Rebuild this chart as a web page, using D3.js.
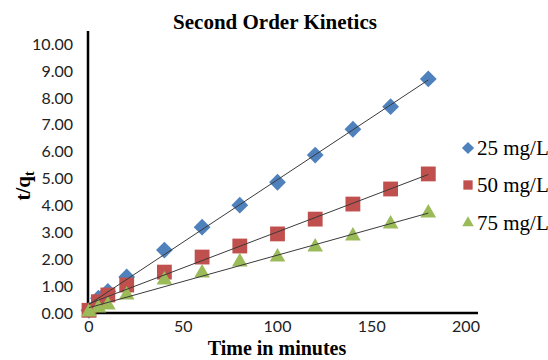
<!DOCTYPE html>
<html>
<head>
<meta charset="utf-8">
<script src="https://cdn.jsdelivr.net/npm/d3@7"></script>
<style>
  html, body { margin: 0; padding: 0; background: #fff; }
  svg { display: block; }
</style>
</head>
<body>
<svg id="chart" width="548" height="360"></svg>
<script>
// Contact time (minutes) and t/qt values for each initial concentration
const times = [0, 5, 10, 20, 40, 60, 80, 100, 120, 140, 160, 180];
const s25 = [0.10, 0.55, 0.80, 1.34, 2.34, 3.19, 4.01, 4.86, 5.87, 6.83, 7.67, 8.70];
const s50 = [0.10, 0.42, 0.67, 1.04, 1.52, 2.08, 2.49, 2.94, 3.49, 4.05, 4.61, 5.17];
const s75 = [0.04, 0.19, 0.30, 0.67, 1.23, 1.49, 1.90, 2.08, 2.45, 2.86, 3.31, 3.72];
const seriesNames = ["25 mg/L", "50 mg/L", "75 mg/L"];
const xTicks = [0, 50, 100, 150, 200];
const yTicks = [0, 1, 2, 3, 4, 5, 6, 7, 8, 9, 10];

const colors = ["#4F81BD", "#C0504D", "#9BBB59"];
const shapes = [d3.symbolDiamond2, d3.symbolSquare2, d3.symbolTriangle2];

const svg = d3.select("#chart");
const x = d3.scaleLinear().domain([0, 200]).range([89, 466]);
const y = d3.scaleLinear().domain([0, 10]).range([313, 44]);

const tickFont = "Lato, 'Open Sans', sans-serif";
const serif = "'Liberation Serif', 'Times New Roman', serif";

// Title
svg.append("text")
  .attr("x", 275).attr("y", 29)
  .attr("text-anchor", "middle")
  .attr("font-family", serif).attr("font-weight", "bold")
  .attr("font-size", 21)
  .text("Second Order Kinetics");

// Y tick labels
svg.append("g").selectAll("text").data(yTicks).join("text")
  .attr("x", 73).attr("y", d => y(d))
  .attr("dy", "0.36em")
  .attr("text-anchor", "end")
  .attr("font-family", tickFont).attr("font-size", 16)
  .attr("fill", "#222")
  .text(d => d.toFixed(2));

// X tick labels
svg.append("g").selectAll("text").data(xTicks).join("text")
  .attr("x", d => x(d)).attr("y", 332)
  .attr("text-anchor", "middle")
  .attr("font-family", tickFont).attr("font-size", 16)
  .attr("fill", "#222")
  .text(d => d);

// Axis lines
svg.append("line")
  .attr("x1", x(0)).attr("x2", 478)
  .attr("y1", y(0)).attr("y2", y(0))
  .attr("stroke", "#000").attr("stroke-width", 2.5);
svg.append("line")
  .attr("x1", x(0) - 1).attr("x2", x(0) - 1)
  .attr("y1", 31).attr("y2", y(0) + 1)
  .attr("stroke", "#000").attr("stroke-width", 2.5);

// Axis titles
svg.append("text")
  .attr("x", 277).attr("y", 355)
  .attr("text-anchor", "middle")
  .attr("font-family", serif).attr("font-weight", "bold")
  .attr("font-size", 20)
  .text("Time in minutes");

const yLab = svg.append("text")
  .attr("transform", "translate(30,186) rotate(-90)")
  .attr("text-anchor", "middle")
  .attr("font-family", serif).attr("font-weight", "bold")
  .attr("font-size", 21);
yLab.append("tspan").text("t/q");
yLab.append("tspan").attr("font-size", 14).attr("dy", 4).text("t");

// Scatter markers, one series after another
const allSeries = [s25, s50, s75];
const markerSizes = [180, 280, 175];
allSeries.forEach((vals, i) => {
  svg.append("g").selectAll("path").data(vals).join("path")
    .attr("transform", (d, j) => `translate(${x(times[j])},${y(d)})`)
    .attr("d", d3.symbol().type(shapes[i]).size(markerSizes[i]))
    .attr("fill", colors[i]);
});

// Linear trendlines (least squares) over the measured time range
function fit(xs, ys) {
  const n = xs.length;
  const mx = d3.mean(xs), my = d3.mean(ys);
  let sxy = 0, sxx = 0;
  for (let k = 0; k < n; k++) {
    sxy += (xs[k] - mx) * (ys[k] - my);
    sxx += (xs[k] - mx) ** 2;
  }
  const b = sxy / sxx;
  return { a: my - b * mx, b };
}
allSeries.forEach(vals => {
  const f = fit(times, vals);
  const t0 = d3.min(times), t1 = d3.max(times);
  svg.append("line")
    .attr("x1", x(t0)).attr("y1", y(f.a + f.b * t0))
    .attr("x2", x(t1)).attr("y2", y(f.a + f.b * t1))
    .attr("stroke", "#3a3a3a").attr("stroke-width", 1);
});

// Legend
const legendY = [148, 185, 223];
const legend = svg.append("g");
seriesNames.forEach((name, i) => {
  legend.append("path")
    .attr("transform", `translate(468,${legendY[i]})`)
    .attr("d", d3.symbol().type(shapes[i]).size(i === 1 ? 110 : 95))
    .attr("fill", colors[i]);
  legend.append("text")
    .attr("x", 477).attr("y", legendY[i] + 7)
    .attr("font-family", serif).attr("font-size", 21)
    .text(name);
});
</script>
</body>
</html>
